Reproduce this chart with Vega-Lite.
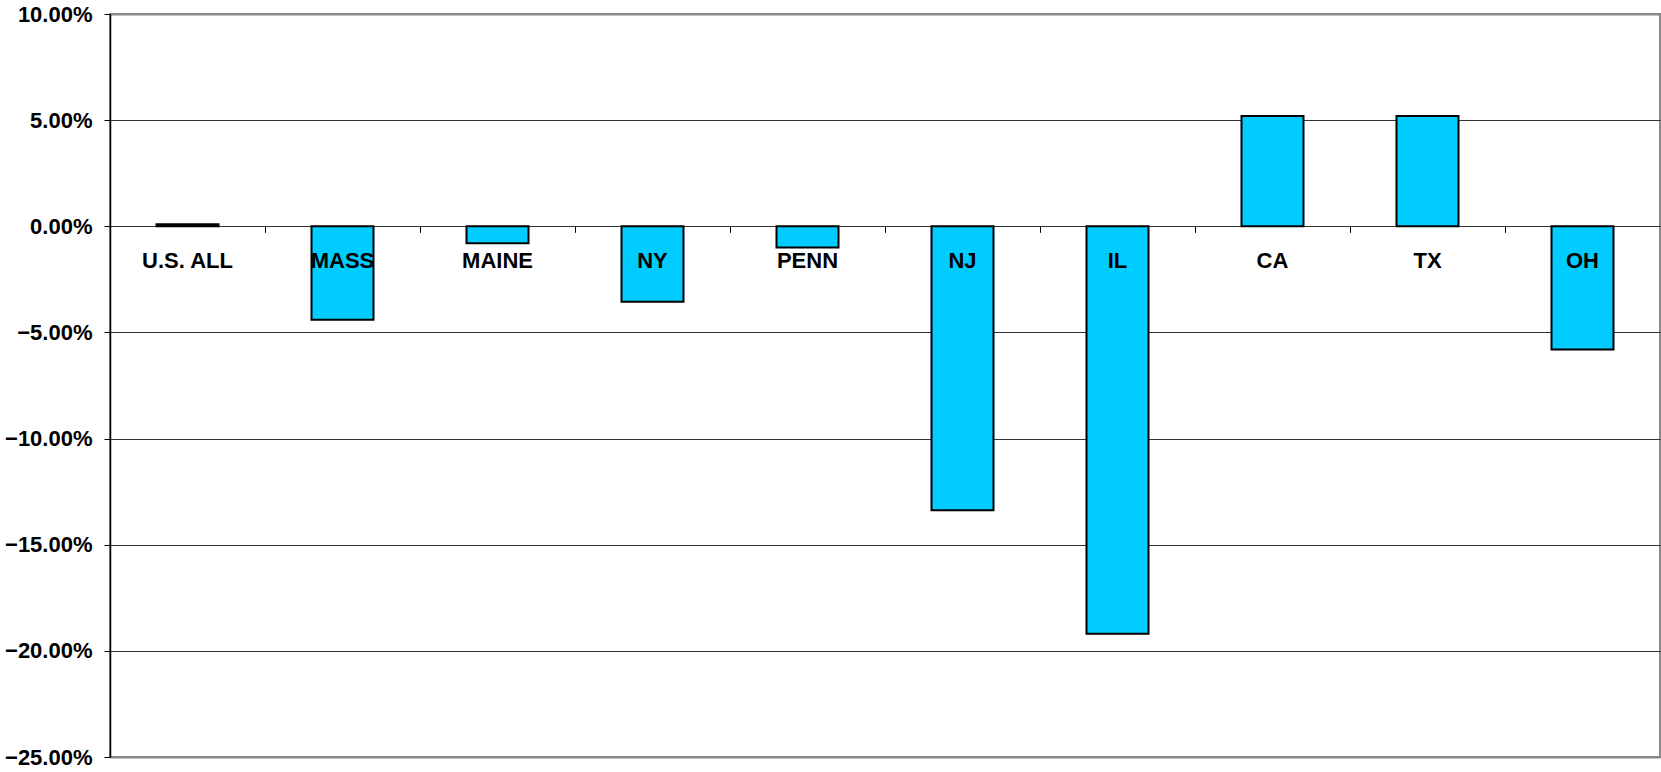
{
  "$schema": "https://vega.github.io/schema/vega-lite/v6.json",
  "width": 1550,
  "height": 743,
  "autosize": {"type": "none"},
  "padding": {"left": 110, "top": 14, "right": 1, "bottom": 15},
  "background": "white",
  "config": {
    "view": {"stroke": "#8a8a8a", "strokeWidth": 2},
    "font": "Liberation Sans"
  },
  "data": {
    "values": [
      {"state": "U.S. ALL", "change": 0.001},
      {"state": "MASS", "change": -0.044},
      {"state": "MAINE", "change": -0.008},
      {"state": "NY", "change": -0.0356},
      {"state": "PENN", "change": -0.01},
      {"state": "NJ", "change": -0.1338},
      {"state": "IL", "change": -0.1919},
      {"state": "CA", "change": 0.052},
      {"state": "TX", "change": 0.052},
      {"state": "OH", "change": -0.058}
    ]
  },
  "mark": {"type": "bar", "fill": "#00CCFF", "stroke": "#000000", "strokeWidth": 2},
  "encoding": {
    "x": {
      "field": "state",
      "type": "nominal",
      "sort": null,
      "scale": {"paddingInner": 0.6, "paddingOuter": 0.3},
      "axis": {
        "title": null,
        "orient": "bottom",
        "offset": -530.7,
        "domain": false,
        "labelAngle": 0,
        "labelFont": "Liberation Sans",
        "labelFontSize": 22,
        "labelFontWeight": "bold",
        "labelColor": "#000000",
        "labelPadding": 18,
        "tickSize": 6,
        "tickColor": "#000000",
        "tickWidth": 1,
        "bandPosition": -0.75,
        "zindex": 1
      }
    },
    "y": {
      "field": "change",
      "type": "quantitative",
      "scale": {"domain": [-0.25, 0.1], "nice": false, "zero": false},
      "axis": {
        "title": null,
        "values": [-0.25, -0.2, -0.15, -0.1, -0.05, 0, 0.05, 0.1],
        "format": ".2%",
        "labelFont": "Liberation Sans",
        "labelFontSize": 22,
        "labelFontWeight": "bold",
        "labelColor": "#000000",
        "labelPadding": 12,
        "tickSize": 6,
        "tickColor": "#000000",
        "domainColor": "#000000",
        "domainWidth": 1.5,
        "grid": true,
        "gridColor": {"condition": {"test": "datum.value >= 0.099 || datum.value <= -0.249", "value": "#8a8a8a"}, "value": "#333333"},
        "gridWidth": {"condition": {"test": "datum.value >= 0.099 || datum.value <= -0.249", "value": 2}, "value": 1},
        "gridOpacity": 1
      }
    }
  }
}
